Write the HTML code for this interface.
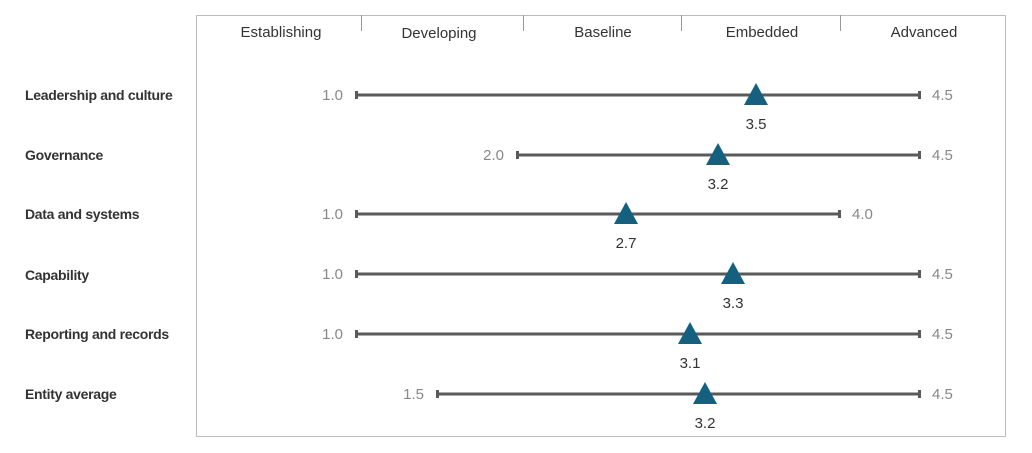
<!DOCTYPE html>
<html><head><meta charset="utf-8"><style>
body{margin:0;background:#fff;}
svg{display:block;font-family:"Liberation Sans",sans-serif;}
</style></head><body>
<svg width="1032" height="453" viewBox="0 0 1032 453">
<rect x="196.5" y="15.5" width="809" height="421" fill="none" stroke="#bdbdbd" stroke-width="1"/>
<g stroke="#999" stroke-width="1">
<line x1="361.5" y1="15" x2="361.5" y2="31"/>
<line x1="523.5" y1="15" x2="523.5" y2="31"/>
<line x1="681.5" y1="15" x2="681.5" y2="31"/>
<line x1="840.5" y1="15" x2="840.5" y2="31"/>
</g>
<g font-size="15" fill="#333" text-anchor="middle">
<text x="281" y="37">Establishing</text>
<text x="439" y="38">Developing</text>
<text x="603" y="37">Baseline</text>
<text x="762" y="37">Embedded</text>
<text x="924" y="37">Advanced</text>
</g>
<g font-size="14" font-weight="bold" fill="#333" letter-spacing="-0.3">
<text x="25" y="100">Leadership and culture</text>
<text x="25" y="160">Governance</text>
<text x="25" y="219">Data and systems</text>
<text x="25" y="280">Capability</text>
<text x="25" y="339">Reporting and records</text>
<text x="25" y="399">Entity average</text>
</g>
<g stroke="#5a5a5a" stroke-width="3">
<line x1="356" y1="95" x2="920" y2="95"/>
<line x1="517" y1="155" x2="920" y2="155"/>
<line x1="356" y1="214" x2="839" y2="214"/>
<line x1="356" y1="274" x2="920" y2="274"/>
<line x1="356" y1="334" x2="920" y2="334"/>
<line x1="437" y1="394" x2="920" y2="394"/>
</g>
<g fill="#5a5a5a">
<rect x="355" y="91" width="3" height="8"/><rect x="918" y="91" width="3" height="8"/>
<rect x="516" y="151" width="3" height="8"/><rect x="918" y="151" width="3" height="8"/>
<rect x="355" y="210" width="3" height="8"/><rect x="838" y="210" width="3" height="8"/>
<rect x="355" y="270" width="3" height="8"/><rect x="918" y="270" width="3" height="8"/>
<rect x="355" y="330" width="3" height="8"/><rect x="918" y="330" width="3" height="8"/>
<rect x="436" y="390" width="3" height="8"/><rect x="918" y="390" width="3" height="8"/>
</g>
<g font-size="15" fill="#888">
<text x="343" y="100" text-anchor="end">1.0</text><text x="932" y="100">4.5</text>
<text x="504" y="160" text-anchor="end">2.0</text><text x="932" y="160">4.5</text>
<text x="343" y="219" text-anchor="end">1.0</text><text x="852" y="219">4.0</text>
<text x="343" y="279" text-anchor="end">1.0</text><text x="932" y="279">4.5</text>
<text x="343" y="339" text-anchor="end">1.0</text><text x="932" y="339">4.5</text>
<text x="424" y="399" text-anchor="end">1.5</text><text x="932" y="399">4.5</text>
</g>
<g fill="#15607f">
<polygon points="756,83 744,105 768,105"/>
<polygon points="718,143 706,165 730,165"/>
<polygon points="626,202 614,224 638,224"/>
<polygon points="733,262 721,284 745,284"/>
<polygon points="690,322 678,344 702,344"/>
<polygon points="705,382 693,404 717,404"/>
</g>
<g font-size="15" fill="#333" text-anchor="middle">
<text x="756" y="129">3.5</text>
<text x="718" y="189">3.2</text>
<text x="626" y="248">2.7</text>
<text x="733" y="308">3.3</text>
<text x="690" y="368">3.1</text>
<text x="705" y="428">3.2</text>
</g>
</svg>
</body></html>
